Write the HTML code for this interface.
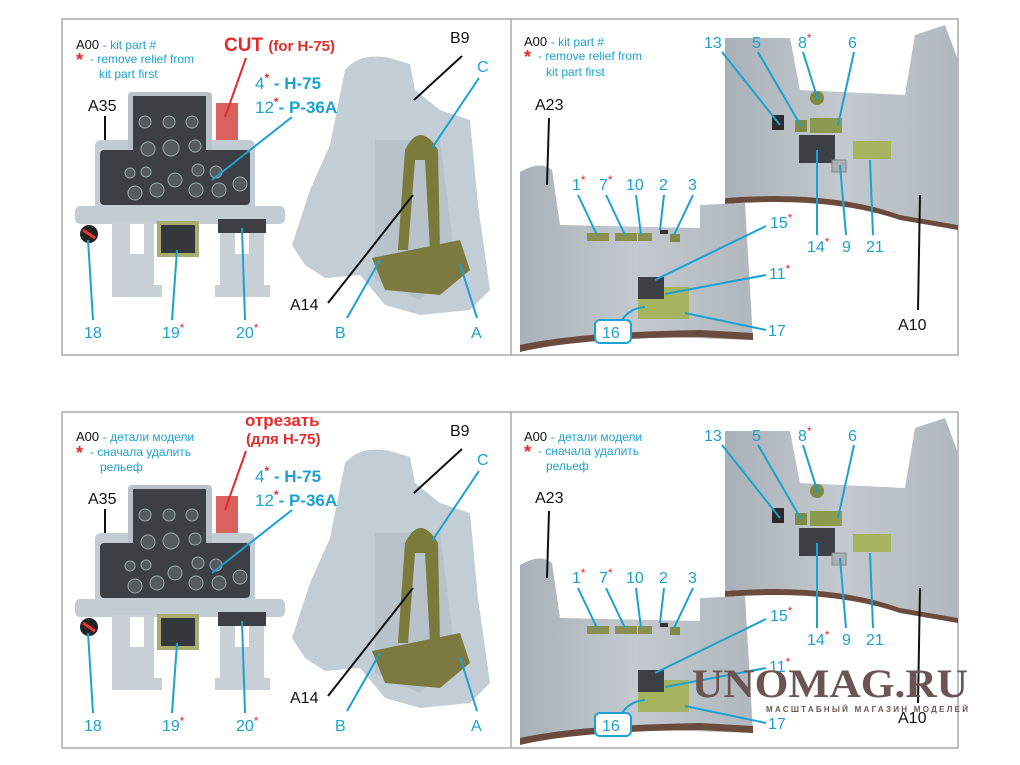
<!DOCTYPE html>
<html><head><meta charset="utf-8"><style>
html,body{margin:0;padding:0;background:#fff;}
svg{display:block;font-family:"Liberation Sans",Arial,sans-serif;}
.c{fill:#1ba1d2;}
.k{fill:#111;}
.r{fill:#e32b2b;}
.lc{stroke:#1ba1d2;stroke-width:2;fill:none;}
.lk{stroke:#111;stroke-width:2;fill:none;}
</style></head><body>
<svg width="1020" height="765" viewBox="0 0 1020 765" xmlns="http://www.w3.org/2000/svg">
<defs>
<linearGradient id="gw" x1="0" y1="0" x2="1" y2="0"><stop offset="0" stop-color="#a9b1b8"/><stop offset="0.5" stop-color="#c3c9ce"/><stop offset="1" stop-color="#b0b7bd"/></linearGradient>
<g id="art">
  <!-- frames -->
  <rect x="62" y="19" width="896" height="336" fill="none" stroke="#aaa" stroke-width="1.5"/>
  <line x1="511" y1="19" x2="511" y2="355" stroke="#aaa" stroke-width="1.5"/>
  <!-- instrument panel -->
  <rect x="216" y="103" width="22" height="38" fill="#d9625e"/>
  <rect x="95" y="140" width="160" height="75" rx="6" fill="#c4ccd3"/>
  <rect x="128" y="92" width="84" height="60" rx="4" fill="#b9c1c8"/>
  <rect x="133" y="96" width="73" height="64" fill="#3c4044"/>
  <rect x="100" y="150" width="150" height="55" rx="4" fill="#3c4044"/>
  <g fill="#565b60" stroke="#9aa" stroke-width="1">
    <circle cx="145" cy="122" r="6"/><circle cx="169" cy="122" r="6"/><circle cx="192" cy="122" r="6"/>
    <circle cx="148" cy="149" r="7"/><circle cx="171" cy="148" r="8"/><circle cx="195" cy="146" r="6"/>
    <circle cx="130" cy="173" r="5"/><circle cx="146" cy="172" r="5"/><circle cx="175" cy="180" r="7"/><circle cx="198" cy="170" r="6"/><circle cx="216" cy="172" r="6"/>
    <circle cx="135" cy="193" r="7"/><circle cx="157" cy="190" r="7"/><circle cx="196" cy="190" r="7"/><circle cx="219" cy="190" r="7"/><circle cx="240" cy="184" r="7"/>
  </g>
  <rect x="75" y="206" width="210" height="18" rx="5" fill="#c4ccd3"/>
  <rect x="112" y="222" width="42" height="72" fill="#c8d0d6"/>
  <rect x="220" y="222" width="44" height="72" fill="#c8d0d6"/>
  <rect x="130" y="224" width="14" height="30" fill="#fff"/>
  <rect x="235" y="224" width="14" height="30" fill="#fff"/>
  <rect x="112" y="285" width="50" height="12" fill="#c8d0d6"/>
  <rect x="215" y="285" width="55" height="12" fill="#c8d0d6"/>
  <rect x="157" y="221" width="42" height="36" fill="#a6ad6e"/>
  <rect x="161" y="225" width="34" height="28" fill="#34383b"/>
  <rect x="218" y="219" width="48" height="14" fill="#3c4044"/>
  <circle cx="89" cy="234" r="9" fill="#222"/><line x1="83" y1="230" x2="95" y2="238" stroke="#e33" stroke-width="3"/>
  <!-- seat -->
  <path d="M345 70 Q360 52 390 58 L410 64 L415 90 L440 110 L470 120 L478 205 L490 290 L470 310 L420 315 L385 305 L360 275 L325 278 L305 265 L292 245 L310 190 L330 145 Z" fill="#c3cdd5"/>
  <path d="M375 140 L440 140 L455 260 L420 300 L375 280 Z" fill="#b7c2ca"/>
  <path d="M405 150 Q420 120 438 150 L440 250 L430 250 L425 160 L415 160 L408 250 L398 250 Z" fill="#7a7a3a"/>
  <path d="M372 258 L460 240 L470 270 L440 295 L385 290 Z" fill="#7d7a40"/>
  <!-- right top part -->
  <path d="M725 38 L790 38 L800 90 L905 95 L915 35 L945 25 L958 60 L958 225 L900 215 Q830 190 725 198 Z" fill="url(#gw)"/>
  <path d="M725 198 Q830 190 900 215 L958 225 L958 230 L900 220 Q830 196 725 204 Z" fill="#6b4b3e"/>
  <rect x="772" y="115" width="12" height="15" fill="#2b2b2b"/>
  <rect x="795" y="120" width="12" height="12" fill="#7e8a45"/>
  <rect x="810" y="118" width="32" height="15" fill="#8a9a4f"/>
  <circle cx="817" cy="98" r="7" fill="#7e8a45"/>
  <rect x="799" y="135" width="36" height="28" fill="#3c4044"/>
  <rect x="832" y="160" width="14" height="12" fill="#a9b1b8" stroke="#888"/>
  <rect x="853" y="141" width="38" height="18" fill="#a6b45f"/>
  <!-- left bottom part -->
  <path d="M520 172 Q540 160 552 170 L560 225 L700 228 L700 205 L745 203 L753 340 L600 335 Q550 338 520 350 Z" fill="url(#gw)"/>
  <path d="M520 345 Q580 332 700 330 L753 333 L753 340 L700 337 Q580 338 520 352 Z" fill="#6b4b3e"/>
  <rect x="587" y="233" width="22" height="8" fill="#8a8f52"/>
  <rect x="615" y="233" width="22" height="8" fill="#8a8f52"/>
  <rect x="638" y="233" width="14" height="8" fill="#8a8f52"/>
  <rect x="660" y="230" width="8" height="4" fill="#333"/>
  <rect x="670" y="234" width="10" height="8" fill="#7e8a45"/>
  <rect x="638" y="277" width="26" height="22" fill="#3c4044"/>
  <rect x="664" y="287" width="25" height="32" fill="#a6b45f"/>
  <rect x="638" y="299" width="26" height="20" fill="#a6b45f"/>
  <!-- 16 box -->
  <rect x="595" y="320" width="36" height="23" rx="5" fill="#fff" stroke="#1ba1d2" stroke-width="2"/>
  <path d="M622 320 Q630 308 645 307" class="lc"/>
  <!-- lines -->
  <line x1="246" y1="58" x2="225" y2="117" stroke="#e32b2b" stroke-width="2"/>
  <line class="lk" x1="105" y1="116" x2="105" y2="140"/>
  <line class="lc" x1="292" y1="117" x2="212" y2="180"/>
  <line class="lk" x1="462" y1="56" x2="414" y2="100"/>
  <line class="lc" x1="479" y1="78" x2="432" y2="148"/>
  <line class="lk" x1="328" y1="303" x2="413" y2="195"/>
  <line class="lc" x1="347" y1="318" x2="380" y2="260"/>
  <line class="lc" x1="477" y1="318" x2="460" y2="264"/>
  <line class="lc" x1="93" y1="320" x2="88" y2="240"/>
  <line class="lc" x1="172" y1="320" x2="177" y2="250"/>
  <line class="lc" x1="245" y1="320" x2="242" y2="228"/>
  <line class="lk" x1="549" y1="118" x2="547" y2="185"/>
  <line class="lc" x1="722" y1="52" x2="780" y2="125"/>
  <line class="lc" x1="758" y1="52" x2="801" y2="126"/>
  <line class="lc" x1="803" y1="52" x2="818" y2="100"/>
  <line class="lc" x1="854" y1="52" x2="838" y2="125"/>
  <line class="lc" x1="578" y1="195" x2="597" y2="235"/>
  <line class="lc" x1="606" y1="195" x2="625" y2="235"/>
  <line class="lc" x1="636" y1="195" x2="641" y2="235"/>
  <line class="lc" x1="664" y1="195" x2="660" y2="230"/>
  <line class="lc" x1="693" y1="195" x2="674" y2="235"/>
  <line class="lc" x1="766" y1="226" x2="655" y2="280"/>
  <line class="lc" x1="817" y1="235" x2="817" y2="150"/>
  <line class="lc" x1="846" y1="235" x2="840" y2="165"/>
  <line class="lc" x1="873" y1="235" x2="870" y2="160"/>
  <line class="lc" x1="766" y1="275" x2="665" y2="294"/>
  <line class="lc" x1="766" y1="330" x2="685" y2="313"/>
  <line class="lk" x1="918" y1="310" x2="920" y2="195"/>
</g>
<g id="labels">
  <text x="88" y="111" class="k" font-size="16">A35</text>
  <text x="255" y="89" font-size="17" font-weight="bold" class="c"><tspan font-weight="normal">4</tspan><tspan class="r" font-size="12" dy="-7">*</tspan><tspan dy="7"> - H-75</tspan></text>
  <text x="255" y="113" font-size="17" font-weight="bold" class="c"><tspan font-weight="normal">12</tspan><tspan class="r" font-size="12" dy="-7">*</tspan><tspan dy="7">- P-36A</tspan></text>
  <text x="450" y="43" class="k" font-size="16">B9</text>
  <text x="477" y="72" class="c" font-size="16">C</text>
  <text x="290" y="310" class="k" font-size="16">A14</text>
  <text x="335" y="338" class="c" font-size="16">B</text>
  <text x="471" y="338" class="c" font-size="16">A</text>
  <text x="84" y="338" class="c" font-size="16">18</text>
  <text x="162" y="338" class="c" font-size="16">19<tspan class="r" font-size="12" dy="-6">*</tspan></text>
  <text x="236" y="338" class="c" font-size="16">20<tspan class="r" font-size="12" dy="-6">*</tspan></text>
  <text x="535" y="110" class="k" font-size="16">A23</text>
  <text x="704" y="48" class="c" font-size="16">13</text>
  <text x="752" y="48" class="c" font-size="16">5</text>
  <text x="798" y="48" class="c" font-size="16">8<tspan class="r" font-size="12" dy="-6">*</tspan></text>
  <text x="848" y="48" class="c" font-size="16">6</text>
  <text x="572" y="190" class="c" font-size="16">1<tspan class="r" font-size="12" dy="-6">*</tspan></text>
  <text x="599" y="190" class="c" font-size="16">7<tspan class="r" font-size="12" dy="-6">*</tspan></text>
  <text x="626" y="190" class="c" font-size="16">10</text>
  <text x="659" y="190" class="c" font-size="16">2</text>
  <text x="688" y="190" class="c" font-size="16">3</text>
  <text x="770" y="228" class="c" font-size="16">15<tspan class="r" font-size="12" dy="-6">*</tspan></text>
  <text x="807" y="252" class="c" font-size="16">14<tspan class="r" font-size="12" dy="-6">*</tspan></text>
  <text x="842" y="252" class="c" font-size="16">9</text>
  <text x="866" y="252" class="c" font-size="16">21</text>
  <text x="769" y="279" class="c" font-size="16">11<tspan class="r" font-size="12" dy="-6">*</tspan></text>
  <text x="768" y="336" class="c" font-size="16">17</text>
  <text x="602" y="338" class="c" font-size="16">16</text>
  <text x="898" y="330" class="k" font-size="16">A10</text>
</g>
</defs>
<use href="#art"/>
<use href="#art" transform="translate(0,393)"/>
<use href="#labels"/>
<use href="#labels" transform="translate(0,393)"/>
<!-- top-left legend -->
<text x="76" y="49" font-size="13" class="k">A00 <tspan class="c" font-size="12">- kit part #</tspan></text>
<text x="76" y="66" font-size="18" class="r" font-weight="bold">*</text>
<text x="90" y="63" font-size="12" class="c">- remove relief from</text>
<text x="99" y="78" font-size="12" class="c">kit part first</text>
<text x="224" y="51" font-size="19" font-weight="bold" class="r">CUT <tspan font-size="15">(for H-75)</tspan></text>
<!-- top-right legend -->
<text x="524" y="46" font-size="13" class="k">A00 <tspan class="c" font-size="12">- kit part #</tspan></text>
<text x="524" y="63" font-size="18" class="r" font-weight="bold">*</text>
<text x="538" y="60" font-size="12" class="c">- remove relief from</text>
<text x="546" y="76" font-size="12" class="c">kit part first</text>
<!-- bottom-left legend -->
<text x="76" y="441" font-size="13" class="k">A00 <tspan class="c" font-size="12">- детали модели</tspan></text>
<text x="76" y="459" font-size="18" class="r" font-weight="bold">*</text>
<text x="90" y="456" font-size="12" class="c">- сначала удалить</text>
<text x="100" y="471" font-size="12" class="c">рельеф</text>
<text x="245" y="426" font-size="17" font-weight="bold" class="r">отрезать</text>
<text x="246" y="444" font-size="15" font-weight="bold" class="r">(для H-75)</text>
<!-- bottom-right legend -->
<text x="524" y="441" font-size="13" class="k">A00 <tspan class="c" font-size="12">- детали модели</tspan></text>
<text x="524" y="458" font-size="18" class="r" font-weight="bold">*</text>
<text x="538" y="455" font-size="12" class="c">- сначала удалить</text>
<text x="546" y="470" font-size="12" class="c">рельеф</text>
<!-- watermark -->
<text x="692" y="697" font-family="'Liberation Serif',serif" font-weight="bold" font-size="40" fill="#6b5553" textLength="276" lengthAdjust="spacingAndGlyphs">UNOMAG.RU</text>
<text x="766" y="712" font-size="8" font-weight="bold" fill="#6b5553" textLength="202" lengthAdjust="spacing">МАСШТАБНЫЙ МАГАЗИН МОДЕЛЕЙ</text>
</svg>
</body></html>
